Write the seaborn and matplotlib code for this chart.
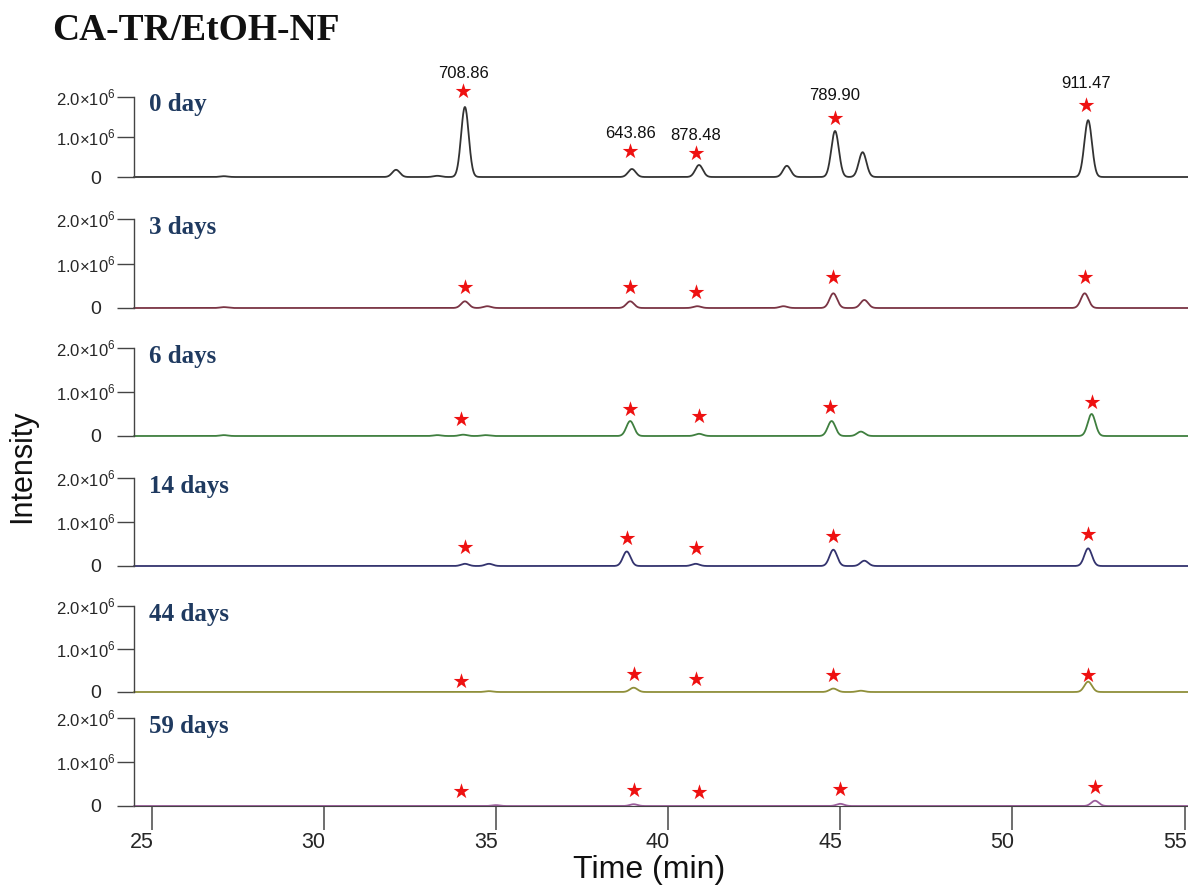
import numpy as np
import pandas as pd
import matplotlib
matplotlib.use('Agg')
import matplotlib.pyplot as plt
import seaborn as sns
from matplotlib.transforms import ScaledTranslation, blended_transform_factory

# ---------------- data ----------------
days = ['0 day', '3 days', '6 days', '14 days', '44 days', '59 days']

# peak tables: retention time (min) and apex intensity
peak_t_0 = [27.1, 32.1, 33.3, 34.1, 38.95, 40.9, 43.45, 44.85, 45.65, 52.2]
peak_h_0 = [0.02e6, 0.18e6, 0.03e6, 1.75e6, 0.2e6, 0.3e6, 0.28e6, 1.15e6, 0.62e6, 1.42e6]
peak_t_3 = [27.1, 34.1, 34.75, 38.9, 40.85, 43.35, 44.8, 45.7, 52.1]
peak_h_3 = [0.02e6, 0.15e6, 0.04e6, 0.15e6, 0.04e6, 0.04e6, 0.33e6, 0.18e6, 0.33e6]
peak_t_6 = [27.1, 33.3, 34.05, 34.7, 38.9, 40.9, 44.75, 45.6, 52.3]
peak_h_6 = [0.02e6, 0.02e6, 0.03e6, 0.02e6, 0.34e6, 0.05e6, 0.34e6, 0.1e6, 0.5e6]
peak_t_14 = [34.1, 34.8, 38.8, 40.8, 44.8, 45.7, 52.2]
peak_h_14 = [0.05e6, 0.05e6, 0.33e6, 0.05e6, 0.37e6, 0.12e6, 0.4e6]
peak_t_44 = [34.8, 39.0, 44.8, 45.6, 52.2]
peak_h_44 = [0.02e6, 0.1e6, 0.08e6, 0.03e6, 0.24e6]
peak_t_59 = [35.0, 39.0, 45.0, 52.4]
peak_h_59 = [0.02e6, 0.04e6, 0.05e6, 0.12e6]

# red star markers above the tracked peaks
star_t_0 = [34.05, 38.9, 40.8, 44.85, 52.15]
star_y_0 = [2.15e6, 0.65e6, 0.6e6, 1.48e6, 1.8e6]
star_t_3 = [34.1, 38.9, 40.8, 44.8, 52.1]
star_y_3 = [0.47e6, 0.47e6, 0.36e6, 0.69e6, 0.69e6]
star_t_6 = [34.0, 38.9, 40.9, 44.7, 52.3]
star_y_6 = [0.39e6, 0.61e6, 0.45e6, 0.66e6, 0.77e6]
star_t_14 = [34.1, 38.8, 40.8, 44.8, 52.2]
star_y_14 = [0.43e6, 0.64e6, 0.41e6, 0.68e6, 0.73e6]
star_t_44 = [34.0, 39.0, 40.8, 44.8, 52.2]
star_y_44 = [0.25e6, 0.41e6, 0.3e6, 0.39e6, 0.39e6]
star_t_59 = [34.0, 39.0, 40.9, 45.0, 52.4]
star_y_59 = [0.34e6, 0.36e6, 0.32e6, 0.39e6, 0.43e6]

# m/z labels on the 0 day trace
mz_labels = ['708.86', '643.86', '878.48', '789.90', '911.47']
mz_y = [2.6e6, 1.1e6, 1.05e6, 2.05e6, 2.35e6]

x_ticks = [25, 30, 35, 40, 45, 50, 55]

peaks_t = [peak_t_0, peak_t_3, peak_t_6, peak_t_14, peak_t_44, peak_t_59]
peaks_h = [peak_h_0, peak_h_3, peak_h_6, peak_h_14, peak_h_44, peak_h_59]
stars_t = [star_t_0, star_t_3, star_t_6, star_t_14, star_t_44, star_t_59]
stars_y = [star_y_0, star_y_3, star_y_6, star_y_14, star_y_44, star_y_59]

colors = ['#333333', '#7a3444', '#3f7f3f', '#33336e', '#8f8f3a', '#9a5c9a']

# ---------------- style ----------------
sns.set_style('white')
plt.rcParams['font.family'] = ['Liberation Sans', 'DejaVu Sans']
plt.rcParams['mathtext.fontset'] = 'custom'
plt.rcParams['mathtext.rm'] = 'Liberation Sans'

W, H = 1188, 890
fig = plt.figure(figsize=(W / 100, H / 100), dpi=100)

# pixel rows of each panel: zero line and 2.0x10^6 line
base_px = [177, 308, 436, 566, 692, 806]
top_px = [97, 219, 348, 478, 606, 718]
left_px = 134
xlim = (24.49, 55.1)
peak_sigma = 0.11
grid = np.arange(xlim[0], xlim[1], 0.01)

for i in range(6):
    ax = fig.add_axes([left_px / W, 1 - base_px[i] / H,
                       (W - left_px) / W, (base_px[i] - top_px[i]) / H])
    # build the trace from the peak table
    trace = np.zeros_like(grid)
    for t, h in zip(peaks_t[i], peaks_h[i]):
        trace += h * np.exp(-0.5 * ((grid - t) / peak_sigma) ** 2)
    df = pd.DataFrame({'Time': grid, 'Intensity': trace})
    sns.lineplot(data=df, x='Time', y='Intensity', ax=ax, color=colors[i],
                 lw=1.3, clip_on=False)
    sns.scatterplot(x=stars_t[i], y=stars_y[i], ax=ax, marker='*', s=140,
                    color='#ee1111', linewidth=0, clip_on=False, zorder=5)
    if i == 0:
        for t, y, lab in zip(star_t_0, mz_y, mz_labels):
            ax.text(t, y, lab, ha='center', va='center', fontsize=12,
                    color='#111111')

    ax.set_xlim(xlim)
    ax.set_ylim(0, 2e6)
    ax.set_xlabel('')
    ax.set_ylabel('')
    for s in ['top', 'right']:
        ax.spines[s].set_visible(False)
    ax.spines['left'].set_color('#444444')
    ax.spines['left'].set_linewidth(1.0)
    ax.set_yticks([0, 1e6, 2e6])
    ax.set_yticklabels(['0', '1.0×10$^{6}$', '2.0×10$^{6}$'])
    ax.tick_params(axis='y', left=True, direction='out', length=12, width=1.0,
                   color='#444444', labelsize=12, pad=1.5)
    zero_lab = ax.get_yticklabels()[0]
    zero_lab.set_fontsize(14)
    zero_lab.set_transform(zero_lab.get_transform() +
                           ScaledTranslation(-0.14, 0, fig.dpi_scale_trans))

    tr = blended_transform_factory(ax.transAxes, ax.transData)
    ax.text(0.014, 1.66e6, days[i], transform=tr, fontsize=18,
            fontweight='bold', family='Liberation Serif', color='#1f3a60',
            va='baseline', ha='left')

    if i < 5:
        ax.spines['bottom'].set_visible(False)
        ax.set_xticks([])
    else:
        ax.spines['bottom'].set_color('#444444')
        ax.set_xticks(x_ticks)
        ax.set_xticklabels([str(v) for v in x_ticks])
        ax.tick_params(axis='x', bottom=True, direction='out', length=17,
                       width=1.2, color='#555555', labelsize=15.5, pad=2)
        # labels sit a bit left of their ticks, as in the original export
        for lab in ax.get_xticklabels():
            lab.set_transform(lab.get_transform() +
                              ScaledTranslation(-0.10, 0, fig.dpi_scale_trans))

fig.text(52 / W, 1 - 40 / H, 'CA-TR/EtOH-NF', fontsize=27, fontweight='bold',
         family='Liberation Serif', va='baseline', ha='left', color='#111111')
fig.text(22 / W, 1 - 466 / H, 'Intensity', rotation=90, fontsize=22,
         va='center', ha='center', color='#111111')
fig.text(649 / W, 1 - 870 / H, 'Time (min)', fontsize=23, va='center',
         ha='center', color='#111111')

fig.savefig('out.png', dpi=100)
